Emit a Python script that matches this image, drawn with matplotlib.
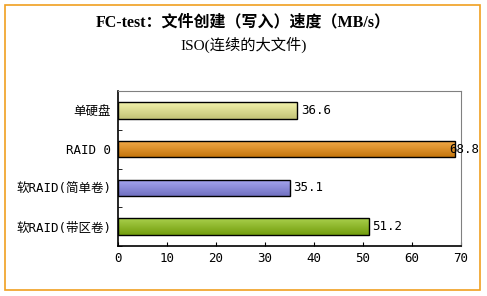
import matplotlib.pyplot as plt
from matplotlib.patches import Rectangle
from matplotlib.colors import to_rgb
import numpy as np

plt.rcParams['font.family'] = ['DejaVu Sans Mono', 'Noto Sans CJK SC']

# data
categories = ['单硬盘', 'RAID 0', '软RAID(简单卷)', '软RAID(带区卷)']
speeds = [36.6, 68.8, 35.1, 51.2]
bar_colors = ['#eeee90', '#f09010', '#8a8aec', '#8cc010']
x_ticks = [0, 10, 20, 30, 40, 50, 60, 70]

fig = plt.figure(figsize=(4.87, 2.96), dpi=100)

# orange frame round the chart
fig.patches.append(Rectangle((5 / 487, 1 - 290 / 296), 475 / 487, 285 / 296,
                             transform=fig.transFigure, fill=False,
                             edgecolor='#f0a020', linewidth=1.2))

ax = fig.add_axes([118 / 487, 1 - 246 / 296, 343 / 487, 155 / 296])

y = np.arange(len(categories))
bars = ax.barh(y, speeds, height=0.42, color=bar_colors, edgecolor='black',
               linewidth=1.0, zorder=3)

# light-to-dark vertical shading inside each bar
for b, c in zip(bars, bar_colors):
    rgb = np.array(to_rgb(c))
    t = np.linspace(0, 1, 32)[:, None]
    top = rgb + (1 - rgb) * 0.25
    bot = rgb * 0.82
    grad = top * (1 - t) + bot * t
    x0, y0 = b.get_x(), b.get_y()
    im = ax.imshow(grad[:, None, :], extent=[x0, x0 + b.get_width(),
                                              y0 + b.get_height(), y0],
                   aspect='auto', zorder=3.1, interpolation='bilinear')
    im.set_clip_path(b)
    b.set_facecolor('none')
    b.set_zorder(3.2)

for yi, v in zip(y, speeds):
    ax.text(min(v + 0.7, 67.6), yi, '%.1f' % v, va='center', ha='left',
            fontsize=9, clip_on=False, zorder=4)

ax.set_xlim(0, 70)
ax.set_ylim(len(categories) - 0.5, -0.5)
ax.set_xticks(x_ticks)
ax.tick_params(axis='x', direction='in', length=3, labelsize=9, pad=4)
ax.set_yticks(y)
ax.set_yticklabels(categories, fontsize=9)
ax.tick_params(axis='y', length=0, pad=5)
ax.set_yticks(np.arange(len(categories) + 1) - 0.5, minor=True)
ax.tick_params(axis='y', which='minor', direction='in', length=3)

for s in ['top', 'right']:
    ax.spines[s].set_color('#808080')
for s in ['left', 'bottom']:
    ax.spines[s].set_color('black')
    ax.spines[s].set_linewidth(1.2)

fig.text(0.5, 1 - 22 / 296, 'FC-test：文件创建（写入）速度（MB/s）',
         ha='center', va='center', fontsize=11.5, fontweight='bold',
         family=['Liberation Serif', 'Noto Sans CJK SC'])
fig.text(0.5, 1 - 45 / 296, 'ISO(连续的大文件)', ha='center', va='center',
         fontsize=11, family=['Liberation Serif', 'Noto Sans CJK SC'])

fig.savefig('out.png', dpi=100)
